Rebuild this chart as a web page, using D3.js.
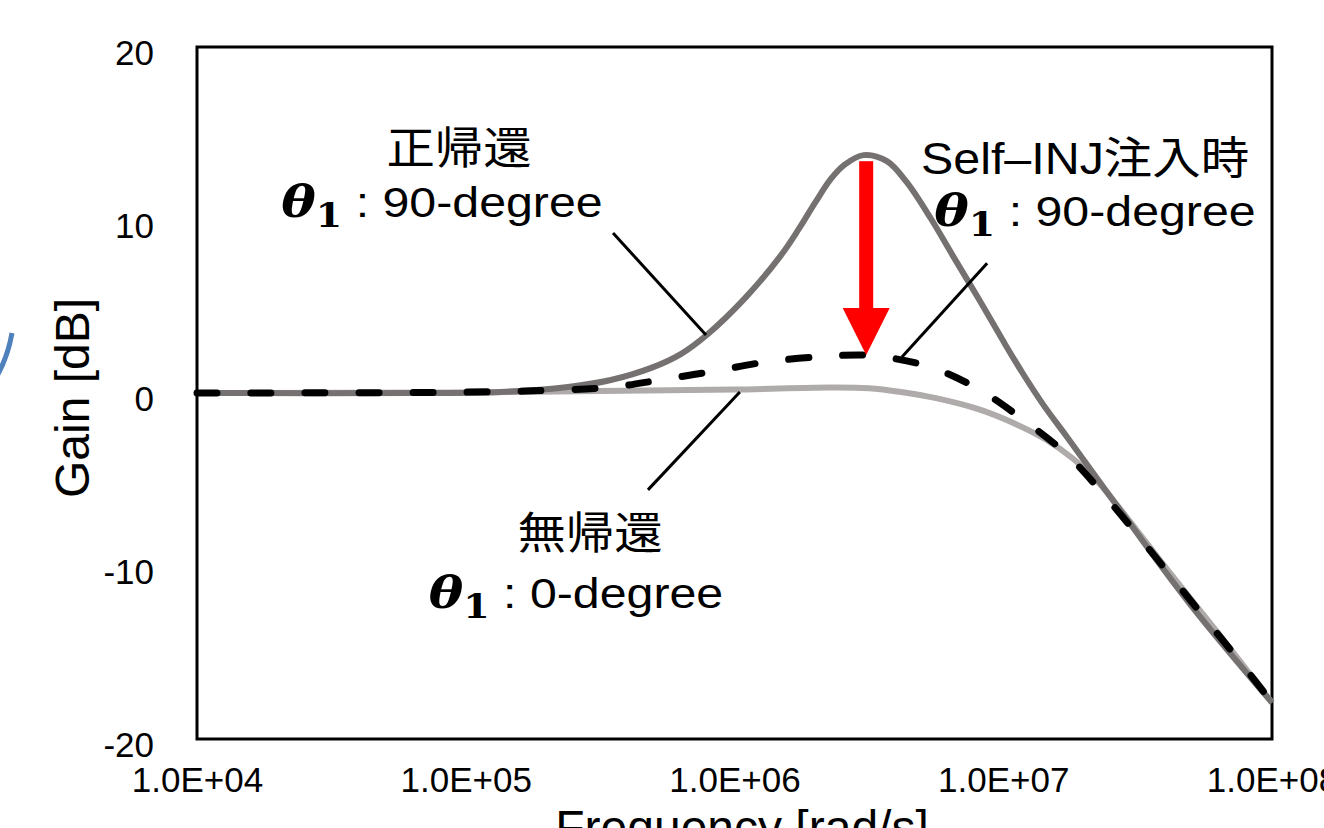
<!DOCTYPE html>
<html>
<head>
<meta charset="utf-8">
<script src="https://cdn.jsdelivr.net/npm/d3@7"></script>
<style>
  body { margin: 0; background: #fff; }
  svg { display: block; }
  text { font-family: "Liberation Sans", Arial, "Noto Sans CJK JP", sans-serif; fill: #000; }
  .theta { font-family: "DejaVu Serif", "Liberation Serif", serif; font-weight: bold; }
</style>
</head>
<body>
<div id="chart"></div>
<script>
// frequency grid (log10 of rad/s) and gain [dB]

// 正帰還  θ1 : 90-degree
const posFreqExp = [4.0, 4.8, 5.13, 5.38, 5.54, 5.69, 5.8, 5.9, 6.04, 6.17, 6.24, 6.3, 6.36, 6.41, 6.48, 6.567, 6.64, 6.73, 6.81, 6.91, 7.0, 7.07, 7.15, 7.24, 7.46, 7.7, 8.0]
const posGain = [0, 0, 0.06, 0.35, 0.75, 1.45, 2.25, 3.4, 5.5, 7.9, 9.5, 11.0, 12.4, 13.2, 13.75, 13.4, 12.2, 10.1, 8.0, 5.4, 3.0, 1.2, -0.7, -2.6, -7.3, -12.3, -17.9]

// Self-INJ注入時  θ1 : 90-degree
const injFreqExp = [4.0, 5.0, 5.3, 5.55, 5.72, 5.92, 6.12, 6.32, 6.47, 6.55, 6.73, 6.91, 7.07, 7.24, 7.37, 7.51, 7.63, 7.77, 7.89, 8.0]
const injGain = [0, 0.05, 0.15, 0.35, 0.75, 1.25, 1.8, 2.1, 2.2, 2.1, 1.5, 0.2, -1.5, -3.6, -5.8, -8.4, -10.7, -13.4, -15.7, -17.9]

// 無帰還  θ1 : 0-degree
const noFreqExp = [4.0, 5.0, 5.5, 6.0, 6.35, 6.5, 6.62, 6.75, 6.91, 7.04, 7.16, 7.26, 7.35, 7.46, 7.6, 7.8, 8.0]
const noGain = [0, 0.03, 0.12, 0.2, 0.32, 0.28, 0.06, -0.3, -0.95, -1.75, -2.7, -3.8, -5.1, -7.2, -10.0, -13.9, -17.9]

const xTicks = [1e4, 1e5, 1e6, 1e7, 1e8]
const xTickLabels = ['1.0E+04', '1.0E+05', '1.0E+06', '1.0E+07', '1.0E+08']
const yTicks = [-20, -10, 0, 10, 20]

const width = 1324, height = 828
const margin = { top: 47, right: 52, bottom: 89, left: 197 }

const svg = d3.select('#chart').append('svg')
    .attr('width', width)
    .attr('height', height)

const x = d3.scaleLog().domain([1e4, 1e8]).range([margin.left, width - margin.right])
const y = d3.scaleLinear().domain([-20, 20]).range([height - margin.bottom, margin.top])

// stray blue arc at the left edge of the slide
svg.append('path')
    .attr('d', 'M -3 376 Q 8 356 12 333')
    .attr('fill', 'none')
    .attr('stroke', '#4f81bd')
    .attr('stroke-width', 5)

// plot frame
svg.append('rect')
    .attr('x', x(1e4))
    .attr('y', y(20))
    .attr('width', x(1e8) - x(1e4))
    .attr('height', y(-20) - y(20))
    .attr('fill', 'none')
    .attr('stroke', '#000')
    .attr('stroke-width', 3)

// axes (labels only, the frame above is the box)
const xAxis = svg.append('g')
    .attr('transform', `translate(0, ${y(-20)})`)
    .call(d3.axisBottom(x).tickValues(xTicks).tickSize(0).tickPadding(28)
        .tickFormat((d, i) => xTickLabels[i]))
xAxis.select('.domain').remove()
xAxis.selectAll('text').attr('font-size', 35).attr('font-family', null)

const yAxis = svg.append('g')
    .attr('transform', `translate(${x(1e4)}, 0)`)
    .call(d3.axisLeft(y).tickValues(yTicks).tickSize(0).tickPadding(43)
        .tickFormat((d) => String(d)))
yAxis.select('.domain').remove()
yAxis.selectAll('text').attr('font-size', 35).attr('font-family', null).attr('dy', '0.5em')

svg.append('text')
    .attr('x', 742)
    .attr('y', 844)
    .attr('text-anchor', 'middle')
    .attr('font-size', 48)
    .text('Frequency [rad/s]')

svg.append('text')
    .attr('transform', 'translate(89, 398) rotate(-90)')
    .attr('text-anchor', 'middle')
    .attr('font-size', 48)
    .text('Gain [dB]')

// curves
const line = d3.line()
    .x((d) => x(10 ** d[0]))
    .y((d) => y(d[1]))
    .curve(d3.curveCatmullRom.alpha(0.5))

svg.append('path')
    .attr('d', line(d3.zip(noFreqExp, noGain)))
    .attr('fill', 'none')
    .attr('stroke', '#afabab')
    .attr('stroke-width', 6)

svg.append('path')
    .attr('d', line(d3.zip(posFreqExp, posGain)))
    .attr('fill', 'none')
    .attr('stroke', '#767171')
    .attr('stroke-width', 6)

svg.append('path')
    .attr('d', line(d3.zip(injFreqExp, injGain)))
    .attr('fill', 'none')
    .attr('stroke', '#000')
    .attr('stroke-width', 7)
    .attr('stroke-linecap', 'round')
    .attr('stroke-dasharray', '20 34')

// leader lines, in (log10 freq, dB)
const leaders = [
    [[5.548, 9.25], [5.894, 3.35]],
    [[6.94, 7.5], [6.623, 2.08]],
    [[6.02, 0.06], [5.678, -5.6]],
]
svg.append('g').selectAll('line')
    .data(leaders)
    .join('line')
    .attr('x1', (d) => x(10 ** d[0][0]))
    .attr('y1', (d) => y(d[0][1]))
    .attr('x2', (d) => x(10 ** d[1][0]))
    .attr('y2', (d) => y(d[1][1]))
    .attr('stroke', '#000')
    .attr('stroke-width', 3)

// red arrow from the positive-feedback peak down to the injected peak
const ax = x(10 ** 6.49)
const aTop = y(13.4), aTip = y(2.2)
const headH = 47, shaftW = 14, headW = 47
svg.append('rect')
    .attr('x', ax - shaftW / 2)
    .attr('y', aTop)
    .attr('width', shaftW)
    .attr('height', aTip - headH - aTop + 1)
    .attr('fill', '#ff0000')
svg.append('path')
    .attr('d', `M${ax - headW / 2},${aTip - headH} L${ax + headW / 2},${aTip - headH} L${ax},${aTip} Z`)
    .attr('fill', '#ff0000')

// annotation labels (the slide text is a little wider than the font, hence scaleX)
function thetaLine(cx, cy, rest) {
    const t = svg.append('text')
        .attr('transform', `translate(${cx}, ${cy}) scale(1.15, 1)`)
        .attr('text-anchor', 'middle')
        .attr('font-size', 42)
    t.append('tspan').attr('class', 'theta').attr('font-style', 'italic').attr('font-size', 45).text('θ')
    t.append('tspan').attr('class', 'theta').attr('font-size', 33).attr('dy', 10).text('1')
    t.append('tspan').attr('dy', -10).text(' : ' + rest)
}

const labels = [
    { cx: 459, cy: 164, head: '正帰還', rest: '90-degree', cy2: 217, cx2: 442 },
    { cx: 1085, cy: 174, head: 'Self\u2013INJ注入時', rest: '90-degree', cy2: 226, cx2: 1095 },
    { cx: 590, cy: 549, head: '無帰還', rest: '0-degree', cy2: 608, cx2: 576 },
]
labels.forEach((l) => {
    svg.append('text')
        .attr('transform', `translate(${l.cx}, ${l.cy}) scale(1.1, 1)`)
        .attr('text-anchor', 'middle')
        .attr('font-size', 44)
        .text(l.head)
    thetaLine(l.cx2, l.cy2, l.rest)
})
</script>
</body>
</html>
